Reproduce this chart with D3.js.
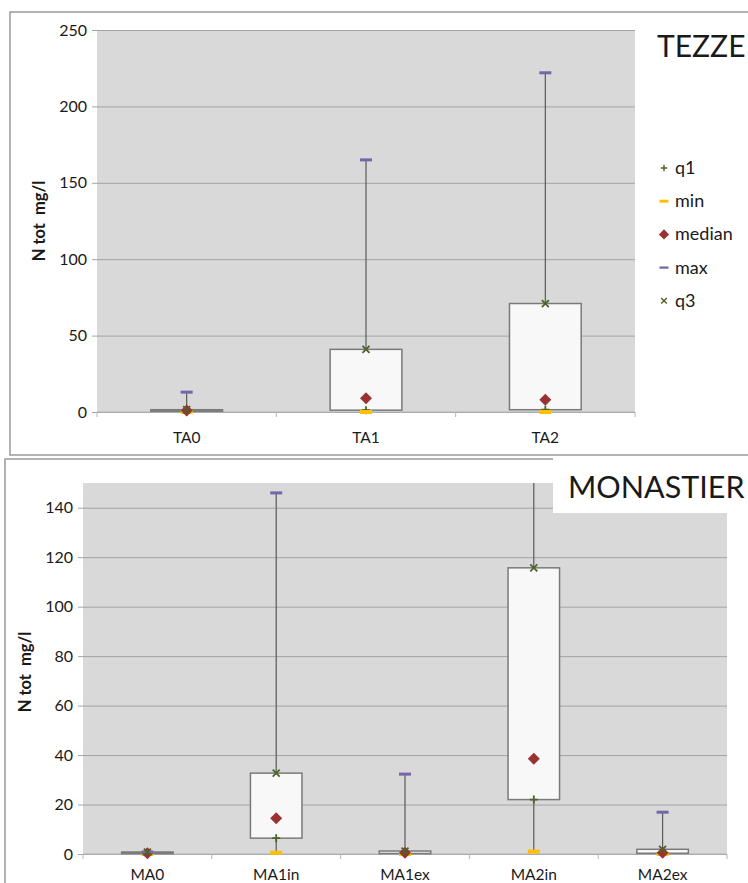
<!DOCTYPE html>
<html>
<head>
<meta charset="utf-8">
<script src="https://cdn.jsdelivr.net/npm/d3@7"></script>
<style>
  body { margin: 0; background: #fff; }
  text { font-family: Lato, "Open Sans", sans-serif; fill: #1a1a1a; }
</style>
</head>
<body>
<div id="chart"></div>
<script>
// TEZZE panel data
var taCats   = ["TA0", "TA1", "TA2"];
var taMin    = [0, 0, 0];
var taQ1     = [0.5, 1.2, 1.5];
var taMedian = [1, 9, 8];
var taQ3     = [1.5, 41, 71];
var taMax    = [13, 165, 222];
var taTicks  = [0, 50, 100, 150, 200, 250];

// MONASTIER panel data
var maCats   = ["MA0", "MA1in", "MA1ex", "MA2in", "MA2ex"];
var maMin    = [0, 0.5, 0, 1, 0];
var maQ1     = [0.2, 6.4, 0.2, 22, 0.3];
var maMedian = [0.3, 14.5, 0.5, 38.5, 0.5];
var maQ3     = [0.8, 32.7, 1.2, 115.7, 1.9];
var maMax    = [0.8, 146, 32.3, 175, 16.9];
var maTicks  = [0, 20, 40, 60, 80, 100, 120, 140];

var legendItems = ["q1", "min", "median", "max", "q3"];

var colors = {
    q1: "#4f6228", q3: "#4f6228", min: "#ffc000",
    median: "#993333", max: "#7466a8"
};

var svg = d3.select("#chart").append("svg")
    .attr("width", 748)
    .attr("height", 883);

// draws one marker of the given kind centred on (0,0) in g
function marker(g, kind) {
    if (kind == "q1") {
        g.append("path").attr("d", "M-4,0H4M0,-4V4")
            .attr("stroke", colors.q1).attr("stroke-width", 1.8);
    } else if (kind == "q3") {
        g.append("path").attr("d", "M-3.5,-3.5L3.5,3.5M-3.5,3.5L3.5,-3.5")
            .attr("stroke", colors.q3).attr("stroke-width", 1.8);
    } else if (kind == "min") {
        g.append("rect").attr("x", -6).attr("y", -2).attr("width", 12).attr("height", 4)
            .attr("fill", colors.min);
    } else if (kind == "max") {
        g.append("rect").attr("x", -6).attr("y", -1.5).attr("width", 12).attr("height", 3)
            .attr("fill", colors.max);
    } else if (kind == "median") {
        g.append("path").attr("d", "M0,-6L6,0L0,6L-6,0Z")
            .attr("fill", colors.median);
    }
}

function drawPanel(cfg) {
    var cats = cfg.cats;
    var rows = cats.map(function(c, i) {
        return {cat: c, min: cfg.min[i], q1: cfg.q1[i], median: cfg.median[i],
                q3: cfg.q3[i], max: cfg.max[i]};
    });

    // outer frame
    svg.append("rect")
        .attr("x", cfg.frame[0]).attr("y", cfg.frame[1])
        .attr("width", cfg.frame[2]).attr("height", cfg.frame[3])
        .attr("fill", "#fff").attr("stroke", "#999").attr("stroke-width", 1.5);

    var x = d3.scaleBand().domain(cats).range([cfg.left, cfg.right]);
    var y = d3.scaleLinear().domain([0, cfg.yMax]).range([cfg.bottom, cfg.top]);

    var g = svg.append("g");

    g.append("rect")
        .attr("x", cfg.left).attr("y", cfg.top)
        .attr("width", cfg.right - cfg.left).attr("height", cfg.bottom - cfg.top)
        .attr("fill", "#d9d9d9");

    // gridlines + y ticks
    g.append("g")
        .attr("transform", "translate(" + cfg.left + ",0)")
        .call(d3.axisLeft(y).tickValues(cfg.ticks).tickSize(-(cfg.right - cfg.left)).tickSizeOuter(0).tickPadding(10))
        .call(function(a) {
            a.select(".domain").remove();
            a.selectAll("line").attr("stroke", "#a3a3a3").attr("x2", cfg.right - cfg.left).attr("x1", -5);
            a.selectAll("text").style("font-size", "16px").style("font-family", "Lato, sans-serif").attr("fill", "#1a1a1a");
        });

    // x axis baseline with ticks at band edges
    var edges = cats.map(function(c) { return x(c); }).concat([cfg.right]);
    g.append("line")
        .attr("x1", cfg.left).attr("x2", cfg.right)
        .attr("y1", y(0)).attr("y2", y(0))
        .attr("stroke", "#b5b5b5").attr("stroke-width", 1.2);
    g.selectAll(".xt").data(edges).enter().append("line")
        .attr("x1", function(d) { return d; }).attr("x2", function(d) { return d; })
        .attr("y1", y(0)).attr("y2", y(0) + 5)
        .attr("stroke", "#b5b5b5");

    g.selectAll(".xl").data(cats).enter().append("text")
        .attr("x", function(d) { return x(d) + x.bandwidth() / 2; })
        .attr("y", cfg.labelY)
        .attr("text-anchor", "middle")
        .style("font-size", "15.5px")
        .text(function(d) { return d; });

    // clip so whiskers above the axis max are cut
    var clipId = "clip" + cfg.id;
    svg.append("defs").append("clipPath").attr("id", clipId)
        .append("rect")
        .attr("x", cfg.left).attr("y", cfg.top)
        .attr("width", cfg.right - cfg.left).attr("height", cfg.bottom - cfg.top + 10);

    var marks = g.append("g").attr("clip-path", "url(#" + clipId + ")");
    var bw = x.bandwidth() * 0.4;

    var box = marks.selectAll(".box").data(rows).enter().append("g")
        .attr("transform", function(d) { return "translate(" + (x(d.cat) + x.bandwidth() / 2) + ",0)"; });

    box.append("line")
        .attr("y1", function(d) { return y(d.min); })
        .attr("y2", function(d) { return y(d.max); })
        .attr("stroke", "#595959").attr("stroke-width", 1.2);

    box.append("rect")
        .attr("x", -bw / 2).attr("width", bw)
        .attr("y", function(d) { return y(d.q3); })
        .attr("height", function(d) { return Math.max(0.5, y(d.q1) - y(d.q3)); })
        .attr("fill", "#f8f8f8").attr("stroke", "#7a7a7a").attr("stroke-width", 1.5);

    ["q1", "min", "median", "max", "q3"].forEach(function(k) {
        box.each(function(d) {
            var m = d3.select(this).append("g").attr("transform", "translate(0," + y(d[k]) + ")");
            marker(m, k);
        });
    });

    // y axis title
    svg.append("text")
        .attr("transform", "translate(" + cfg.yLabelX + "," + cfg.yLabelY + ") rotate(-90)")
        .attr("text-anchor", "middle")
        .style("font-size", "16.5px").style("font-weight", "bold")
        .style("white-space", "pre")
        .text("N tot  mg/l");
}

drawPanel({
    id: "ta", cats: taCats, min: taMin, q1: taQ1, median: taMedian, q3: taQ3, max: taMax,
    ticks: taTicks, yMax: 250,
    frame: [10, 12, 760, 443],
    left: 97, right: 635, top: 30, bottom: 412,
    labelY: 443, yLabelX: 45, yLabelY: 221
});

// TEZZE title + legend
svg.append("text").attr("x", 657).attr("y", 57)
    .style("font-size", "30px").text("TEZZE");

var leg = svg.append("g").attr("transform", "translate(664,168)");
legendItems.forEach(function(k, i) {
    var row = leg.append("g").attr("transform", "translate(0," + (i * 33.2) + ")");
    var mg = row.append("g").attr("transform", k == "q1" || k == "q3" ? "scale(0.8)" : k == "median" ? "scale(0.85)" : "scale(0.75)");
    marker(mg, k);
    row.append("text").attr("x", 11).attr("y", 6)
        .style("font-size", "18px").text(k);
});

drawPanel({
    id: "ma", cats: maCats, min: maMin, q1: maQ1, median: maMedian, q3: maQ3, max: maMax,
    ticks: maTicks, yMax: 150,
    frame: [5, 459, 760, 440],
    left: 83, right: 727, top: 483, bottom: 854,
    labelY: 880, yLabelX: 31, yLabelY: 672
});

// MONASTIER title box sits over the plot corner
svg.append("rect").attr("x", 553).attr("y", 458).attr("width", 200).attr("height", 55)
    .attr("fill", "#fff");
svg.append("text").attr("x", 568).attr("y", 498)
    .style("font-size", "30.5px").text("MONASTIER");
</script>
</body>
</html>
